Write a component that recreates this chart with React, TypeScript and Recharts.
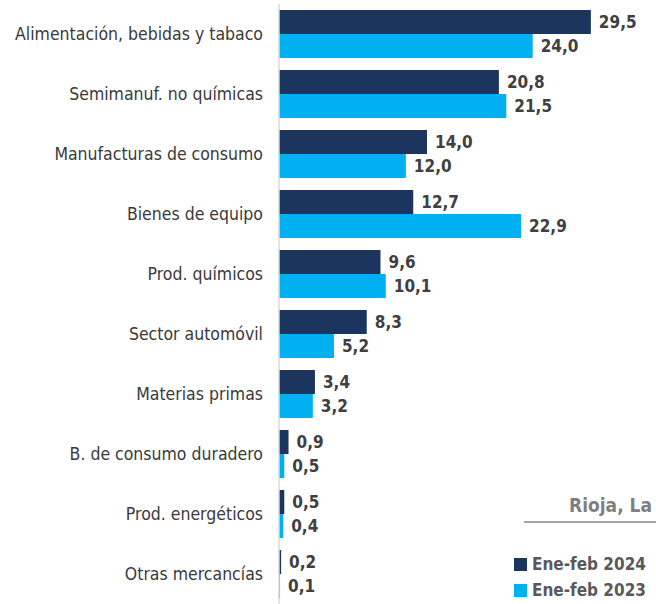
import { BarChart, Bar, XAxis, YAxis, LabelList } from "recharts";

const categories = [
  "Alimentación, bebidas y tabaco",
  "Semimanuf. no químicas",
  "Manufacturas de consumo",
  "Bienes de equipo",
  "Prod. químicos",
  "Sector automóvil",
  "Materias primas",
  "B. de consumo duradero",
  "Prod. energéticos",
  "Otras mercancías",
];
const values2024 = [29.5, 20.8, 14.0, 12.7, 9.6, 8.3, 3.4, 0.9, 0.5, 0.2];
const values2023 = [24.0, 21.5, 12.0, 22.9, 10.1, 5.2, 3.2, 0.5, 0.4, 0.1];
const seriesNames = ["Ene-feb 2024", "Ene-feb 2023"];
const legendTitle = "Rioja, La";

const DARK = "#1b355e";
const LIGHT = "#00b0f0";
const FONT = "'DejaVu Sans Condensed', 'DejaVu Sans', sans-serif";

const data = categories.map((name, i) => ({
  name,
  y2024: values2024[i],
  y2023: values2023[i],
}));

const fmt = (v: any) => Number(v).toFixed(1).replace(".", ",");

function LegendBox() {
  const colors = [DARK, LIGHT];
  return (
    <div
      style={{
        position: "absolute",
        left: 514,
        top: 494,
        width: 142,
        fontFamily: FONT,
      }}
    >
      <div
        style={{
          color: "#7f7f7f",
          fontWeight: "bold",
          fontSize: 19,
          textAlign: "right",
          marginLeft: 10,
          paddingRight: 4,
          paddingBottom: 5,
          borderBottom: "2px solid #a6a6a6",
        }}
      >
        {legendTitle}
      </div>
      <div style={{ marginTop: 28 }}>
        {seriesNames.map((s, i) => (
          <div
            key={s}
            style={{ display: "flex", alignItems: "center", height: 26 }}
          >
            <span
              style={{
                display: "inline-block",
                width: 13,
                height: 13,
                background: colors[i],
                marginRight: 5,
              }}
            />
            <span style={{ color: "#595959", fontWeight: "bold", fontSize: 17 }}>
              {s}
            </span>
          </div>
        ))}
      </div>
    </div>
  );
}

export default function App() {
  return (
    <div
      style={{
        position: "absolute",
        left: 0,
        top: 0,
        width: 656,
        height: 604,
        background: "#fff",
      }}
    >
      <BarChart
        width={656}
        height={604}
        data={data}
        layout="vertical"
        margin={{ top: 4, right: 7, left: 0, bottom: 0 }}
        barGap={0}
      >
        <XAxis type="number" domain={[0, 35]} hide />
        <YAxis
          type="category"
          dataKey="name"
          width={279}
          tickSize={0}
          tickMargin={16}
          axisLine={{ stroke: "#d9d9d9", strokeWidth: 1.5 }}
          tickLine={false}
          tick={{ fill: "#3a3a3a", fontSize: 17.5, fontFamily: FONT }}
          interval={0}
        />
        <Bar
          dataKey="y2024"
          name={seriesNames[0]}
          fill={DARK}
          barSize={24}
          isAnimationActive={false}
        >
          <LabelList
            dataKey="y2024"
            position="right"
            offset={8}
            formatter={fmt}
            style={{ fill: "#404040", fontSize: 17, fontWeight: "bold", fontFamily: FONT }}
          />
        </Bar>
        <Bar
          dataKey="y2023"
          name={seriesNames[1]}
          fill={LIGHT}
          barSize={24}
          isAnimationActive={false}
        >
          <LabelList
            dataKey="y2023"
            position="right"
            offset={8}
            formatter={fmt}
            style={{ fill: "#404040", fontSize: 17, fontWeight: "bold", fontFamily: FONT }}
          />
        </Bar>
      </BarChart>
      <LegendBox />
    </div>
  );
}
